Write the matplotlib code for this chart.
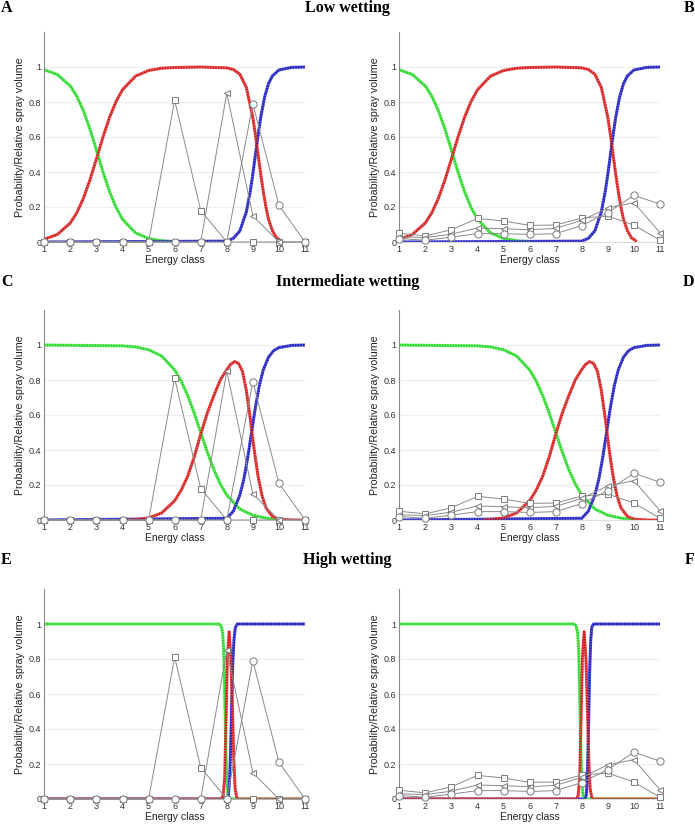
import matplotlib
matplotlib.use('Agg')
from matplotlib import pyplot as plt

# energy classes and the measured spray volumes (grey series)
energy = [1, 2, 3, 4, 5, 6, 7, 8, 9, 10, 11]

left_square = [0, 0, 0, 0, 0, 0.81, 0.18, 0, 0, 0, 0]
left_triangle = [0, 0, 0, 0, 0, 0, 0, 0.85, 0.15, 0, 0]
left_circle = [0, 0, 0, 0, 0, 0, 0, 0, 0.79, 0.21, 0]

right_square = [0.05, 0.035, 0.07, 0.135, 0.12, 0.095, 0.097, 0.137, 0.148, 0.097, 0.01]
right_triangle = [0.03, 0.025, 0.045, 0.08, 0.076, 0.07, 0.078, 0.124, 0.195, 0.225, 0.053]
right_circle = [0.02, 0.01, 0.028, 0.048, 0.048, 0.043, 0.048, 0.094, 0.168, 0.267, 0.216]

# probability curves
low_green_x = [1, 1.5, 2, 2.25, 2.5, 2.75, 3, 3.25, 3.5, 3.75, 4, 4.5, 5, 5.5, 6]
low_green_y = [0.984, 0.957, 0.891, 0.832, 0.75, 0.646, 0.525, 0.401, 0.289, 0.198, 0.13, 0.052, 0.02, 0.007, 0.002]
low_red_x = [1, 1.5, 2, 2.25, 2.5, 2.75, 3, 3.25, 3.5, 3.75, 4, 4.5, 5, 5.5, 6, 7, 8, 8.25, 8.5,
             8.75, 9, 9.1, 9.2, 9.3, 9.4, 9.5, 9.6, 9.75, 9.9, 10.1]
low_red_y = [0.016, 0.043, 0.109, 0.168, 0.25, 0.354, 0.475, 0.599, 0.711, 0.802, 0.87, 0.948, 0.98, 0.993, 0.997, 1.0, 0.995, 0.986, 0.959,
             0.883, 0.711, 0.61, 0.5, 0.389, 0.289, 0.2, 0.13, 0.065, 0.025, 0.004]
low_blue_x = [1, 8, 8.25, 8.5, 8.75, 8.9, 9, 9.1, 9.2, 9.3, 9.45, 9.6, 9.75, 10, 10.5, 11]
low_blue_y = [0, 0.005, 0.021, 0.063, 0.172, 0.289, 0.389, 0.5, 0.611, 0.711, 0.828, 0.905, 0.949, 0.983, 0.998, 1.0]

mid_green_x = [1, 4, 4.5, 5, 5.5, 6, 6.25, 6.5, 6.75, 7, 7.25, 7.5, 7.75, 8, 8.5, 9, 9.5, 10]
mid_green_y = [1.0, 0.995, 0.989, 0.973, 0.937, 0.858, 0.794, 0.711, 0.611, 0.5, 0.389, 0.289, 0.206, 0.142, 0.063, 0.027, 0.011, 0.0]
mid_red_x = [4.2, 4.5, 5, 5.5, 6, 6.25, 6.5, 6.75, 7, 7.25, 7.5, 7.75, 8, 8.15, 8.3, 8.45, 8.6,
             8.75, 8.9, 9.0, 9.1, 9.2, 9.35, 9.5, 9.75, 10, 10.5, 11]
mid_red_y = [0.0, 0.003, 0.012, 0.04, 0.11, 0.17, 0.25, 0.36, 0.49, 0.61, 0.71, 0.8, 0.86, 0.89, 0.905, 0.895, 0.85,
             0.74, 0.58, 0.46, 0.35, 0.25, 0.14, 0.07, 0.02, 0.005, 0.0, 0.0]
mid_blue_x = [1, 8, 8.25, 8.5, 8.65, 8.8, 8.95, 9.1, 9.25, 9.4, 9.6, 9.8, 10, 10.5, 11]
mid_blue_y = [0, 0.01, 0.05, 0.142, 0.231, 0.354, 0.5, 0.646, 0.769, 0.858, 0.931, 0.968, 0.985, 0.998, 1.0]

high_green_x = [1, 7.7, 7.78, 7.84, 7.88, 7.92, 7.96, 8.0, 8.05, 8.1, 11]
high_green_y = [1.0, 1.0, 0.99, 0.95, 0.85, 0.6, 0.3, 0.1, 0.02, 0.0, 0.0]
high_red_x = [1, 7.8, 7.86, 7.92, 7.97, 8.02, 8.09, 8.16, 8.22, 8.27, 8.32, 8.38, 8.45, 11]
high_red_y = [0, 0, 0.02, 0.12, 0.45, 0.8, 0.955, 0.8, 0.5, 0.22, 0.06, 0.01, 0.0, 0.0]
high_blue_left_x = [1, 8.0, 8.06, 8.11, 8.15, 8.19, 8.23, 8.28, 8.33, 8.4, 8.5, 11]
high_blue_left_y = [0, 0, 0.02, 0.12, 0.3, 0.55, 0.78, 0.92, 0.98, 1.0, 1.0, 1.0]
high_blue_right_x = [1, 8.12, 8.17, 8.21, 8.24, 8.27, 8.3, 8.34, 8.38, 8.45, 11]
high_blue_right_y = [0, 0, 0.02, 0.1, 0.28, 0.5, 0.72, 0.9, 0.98, 1.0, 1.0]

row_titles = ['Low wetting', 'Intermediate wetting', 'High wetting']
panel_letters = [('A', 'B'), ('C', 'D'), ('E', 'F')]

curves = [
    (low_green_x, low_green_y, low_red_x, low_red_y, low_blue_x, low_blue_y, low_blue_x, low_blue_y),
    (mid_green_x, mid_green_y, mid_red_x, mid_red_y, mid_blue_x, mid_blue_y, mid_blue_x, mid_blue_y),
    (high_green_x, high_green_y, high_red_x, high_red_y, high_blue_left_x, high_blue_left_y,
     high_blue_right_x, high_blue_right_y),
]

plt.rcParams['font.family'] = ['Liberation Sans', 'DejaVu Sans']


def dotted_curve(ax, x, y, light, dark):
    ax.plot(x, y, color=light, lw=2.2, solid_capstyle='butt', zorder=2)
    ax.plot(x, y, color=dark, lw=1.6, linestyle=(0, (0.6, 0.6)), zorder=2.1)


def draw_panel(ax, gx, gy, rx, ry, bx, by, grey):
    for v in [0.2, 0.4, 0.6, 0.8, 1.0]:
        ax.axhline(v, color='#eeeeee', lw=0.8, zorder=0)
    dotted_curve(ax, gx, gy, '#66ee66', '#22cc22')
    dotted_curve(ax, bx, by, '#5555dd', '#1a1ab0')
    dotted_curve(ax, rx, ry, '#ee5555', '#c41a1a')
    sq, tri, circ = grey
    style = dict(color='#8a8a8a', lw=0.7, mfc='white', mec='#7a7a7a', mew=0.7, clip_on=False, zorder=3)
    ax.plot(energy, sq, marker='s', ms=4.2, **style)
    ax.plot(energy, tri, marker='<', ms=4.8, **style)
    ax.plot(energy, circ, marker='o', ms=5.2, **style)
    ax.set_xlim(1, 11)
    ax.set_ylim(0, 1.2)
    ax.set_xticks(energy)
    ax.set_yticks([0, 0.2, 0.4, 0.6, 0.8, 1])
    ax.set_yticklabels(['0', '0.2', '0.4', '0.6', '0.8', '1'])
    ax.tick_params(length=0, labelsize=6.5, colors='#333333', pad=2)
    ax.set_xlabel('Energy class', fontsize=7.5, labelpad=1, color='#222222')
    ax.set_ylabel('Probability/Relative spray volume', fontsize=7.7, labelpad=3, color='#222222')
    for s in ['top', 'right']:
        ax.spines[s].set_visible(False)
    ax.spines['left'].set_color('#888888')
    ax.spines['left'].set_linewidth(0.8)
    ax.spines['bottom'].set_color('#dddddd')
    ax.spines['bottom'].set_linewidth(0.8)


W, H = 695, 834
fig = plt.figure(figsize=(W / 100, H / 100), dpi=100)

row_bottoms = [242, 520, 799]
title_y = [8, 282, 560]
for i in range(3):
    gx, gy, rx, ry, blx, bly, brx, bry = curves[i]
    bottom = 1 - row_bottoms[i] / H
    axl = fig.add_axes([44.3 / W, bottom, 260.7 / W, 210 / H])
    draw_panel(axl, gx, gy, rx, ry, blx, bly, (left_square, left_triangle, left_circle))
    axr = fig.add_axes([399.3 / W, bottom, 260.7 / W, 210 / H])
    draw_panel(axr, gx, gy, rx, ry, brx, bry, (right_square, right_triangle, right_circle))
    ty = 1 - title_y[i] / H
    fig.text(0.5, ty, row_titles[i], ha='center', va='center', fontsize=11.5,
             fontweight='bold', family='Liberation Serif')
    fig.text(1 / W, ty, panel_letters[i][0], ha='left', va='center', fontsize=11.5,
             fontweight='bold', family='Liberation Serif')
    fig.text(694 / W, ty, panel_letters[i][1], ha='right', va='center', fontsize=11.5,
             fontweight='bold', family='Liberation Serif')

fig.savefig('out.png', dpi=100)
